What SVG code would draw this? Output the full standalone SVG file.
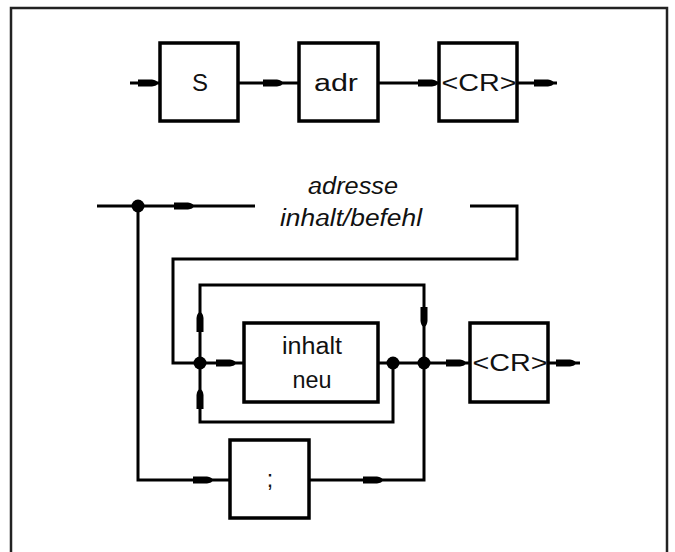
<svg xmlns="http://www.w3.org/2000/svg" xmlns:xlink="http://www.w3.org/1999/xlink" width="675" height="552" viewBox="0 0 675 552">
<style>
.ln{fill:none;stroke:#000;stroke-width:3;stroke-linejoin:miter;stroke-linecap:butt}
.bx{fill:#fff;stroke:#000;stroke-width:3.5}
.t{font-family:"Liberation Sans",Arial,sans-serif;font-size:23px;fill:#111;text-anchor:middle}
.it{font-style:italic}
.dot{fill:#000}
</style>
<defs>
<path id="ar" d="M-19,-3.5 L-5,-3.5 Q0,-3 1,0 Q0,3 -5,3.5 L-19,3.5 Z" fill="#000"/>
</defs>
<rect x="11" y="8" width="656" height="560" fill="#fff" stroke="#222" stroke-width="2.5"/>
<g id="connectors">
<path class="ln" d="M130,83 H160 M238,83 H299 M378,83 H439 M517,83 H557"/>
<path class="ln" d="M97,206 H255"/>
<path class="ln" d="M470,206 H517 V259 H173 V363 H200"/>
<path class="ln" d="M200,363 V285 H424 V480 H309"/>
<path class="ln" d="M393,363 V422 H200 V363"/>
<path class="ln" d="M200,363 H244 M378,363 H470 M548,363 H580"/>
<path class="ln" d="M138,206 V480 H230"/>
<use xlink:href="#ar" transform="translate(157,83)"/>
<use xlink:href="#ar" transform="translate(282,83)"/>
<use xlink:href="#ar" transform="translate(437,83)"/>
<use xlink:href="#ar" transform="translate(553,83)"/>
<use xlink:href="#ar" transform="translate(193,206)"/>
<use xlink:href="#ar" transform="translate(235,363)"/>
<use xlink:href="#ar" transform="translate(465,363)"/>
<use xlink:href="#ar" transform="translate(575,363)"/>
<use xlink:href="#ar" transform="translate(212,480)"/>
<use xlink:href="#ar" transform="translate(382,480)"/>
<use xlink:href="#ar" transform="translate(200,313) rotate(-90)"/>
<use xlink:href="#ar" transform="translate(200,390) rotate(-90)"/>
<use xlink:href="#ar" transform="translate(424,326) rotate(90)"/>
<circle class="dot" cx="138" cy="206" r="6.5"/>
<circle class="dot" cx="200" cy="363" r="6.5"/>
<circle class="dot" cx="393" cy="363" r="6.5"/>
<circle class="dot" cx="424" cy="363" r="6.5"/>
</g>
<g id="label-adresse">
<text class="t it" x="353" y="194" textLength="90" lengthAdjust="spacingAndGlyphs">adresse</text>
<text class="t it" x="351" y="226" textLength="142" lengthAdjust="spacingAndGlyphs">inhalt/befehl</text>
</g>
<g id="node-s">
<rect class="bx" x="160" y="43" width="78" height="78"/>
<text class="t" x="200" y="91" textLength="16" lengthAdjust="spacingAndGlyphs">S</text>
</g>
<g id="node-adr">
<rect class="bx" x="299" y="43" width="79" height="78"/>
<text class="t" x="336" y="91" textLength="44" lengthAdjust="spacingAndGlyphs">adr</text>
</g>
<g id="node-cr1">
<rect class="bx" x="439" y="43" width="78" height="78"/>
<text class="t" x="479" y="91" textLength="75" lengthAdjust="spacingAndGlyphs">&lt;CR&gt;</text>
</g>
<g id="node-inhalt">
<rect class="bx" x="244" y="323" width="134" height="79"/>
<text class="t" x="312" y="354" textLength="60" lengthAdjust="spacingAndGlyphs">inhalt</text>
<text class="t" x="312" y="388" textLength="39" lengthAdjust="spacingAndGlyphs">neu</text>
</g>
<g id="node-cr2">
<rect class="bx" x="470" y="323" width="78" height="79"/>
<text class="t" x="510" y="371" textLength="75" lengthAdjust="spacingAndGlyphs">&lt;CR&gt;</text>
</g>
<g id="node-semicolon">
<rect class="bx" x="230" y="440" width="79" height="78"/>
<text class="t" x="270" y="487">;</text>
</g>
</svg>
